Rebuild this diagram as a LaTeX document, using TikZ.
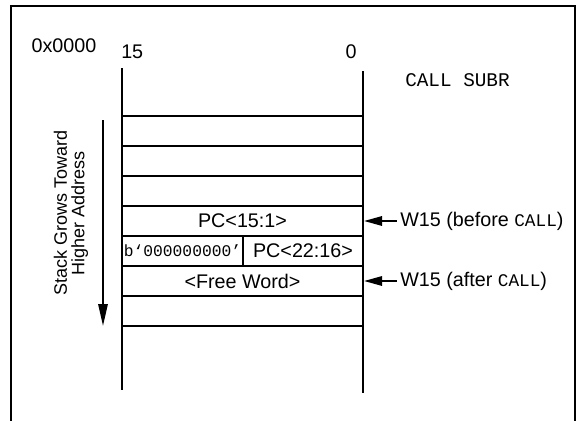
\documentclass[tikz,border=0pt]{standalone}
\usepackage{fontspec}
\setmainfont{Liberation Sans}
\setmonofont{Liberation Mono}
\usetikzlibrary{arrows.meta}

\newcommand{\insn}[1]{{\fontsize{13.3}{16}\selectfont\ttfamily #1}}

\begin{document}
\begin{tikzpicture}[
  x=0.75pt, y=-0.75pt,
  stack line/.style={line width=1.5pt},
  word cell/.style={draw, line width=1.5pt, minimum width=180.75pt, minimum height=22.5pt, inner sep=0pt, font=\fontsize{14.8}{17}\selectfont},
  left half/.style={word cell, minimum width=90.75pt},
  right half/.style={word cell, minimum width=90pt},
  ptr/.style={-{Triangle[length=13.5pt, width=7pt]}, line width=1.5pt, shorten <=2.5pt},
  grow ptr/.style={-{Triangle[length=16.5pt, width=7pt]}, line width=1.5pt},
  plain label/.style={font=\fontsize{14.8}{17}\selectfont, inner sep=0pt},
  code label/.style={font=\fontsize{14.5}{17}\selectfont\ttfamily, inner sep=0pt}
]
  \useasboundingbox (0,0) rectangle (586,421);

  % frame and stack columns
  \draw[stack line] (11,421) -- (11,6) -- (575,6) -- (575,421);
  \draw[stack line] (122,68) -- (122,390);
  \draw[stack line] (363,71) -- (363,393);

  % bit numbers and address
  \node[plain label] (addr) at (64,46) {0x0000};
  \node[plain label, anchor=west] (msb) at (121,52) {15};
  \node[plain label] (lsb) at (351,52) {0};
  \node[code label, anchor=west] (call) at (405,80) {CALL SUBR};

  % stack words
  \node[word cell] (row1) at (242.5,131) {};
  \node[word cell] (row2) at (242.5,161) {};
  \node[word cell] (row3) at (242.5,191) {};
  \node[word cell] (pc low) at (242.5,221) {PC<15:1>};
  \node[left half] (pad) at (182.5,251) {{\fontsize{12.2}{14}\selectfont\ttfamily b‘000000000’}};
  \node[right half] (pc high) at (303,251) {PC<22:16>};
  \node[word cell] (free) at (242.5,281) {<Free Word>};
  \node[word cell] (row7) at (242.5,311) {};

  % stack pointer
  \node[plain label, anchor=west] (w15 before) at (400,221) {W15 (before \insn{CALL})};
  \draw[ptr] (w15 before.west) -- (pc low.east);
  \node[plain label, anchor=west] (w15 after) at (400,281) {W15 (after \insn{CALL})};
  \draw[ptr] (w15 after.west) -- (free.east);

  % growth direction
  \node[rotate=90, align=center, font=\fontsize{13.5}{13}\selectfont] (grow text) at (71,213) {Stack Grows Toward\\Higher Address};
  \coordinate (grow top) at (103,120);
  \coordinate (grow tip) at (103,326);
  \draw[grow ptr] (grow top) -- (grow tip);
\end{tikzpicture}
\end{document}
